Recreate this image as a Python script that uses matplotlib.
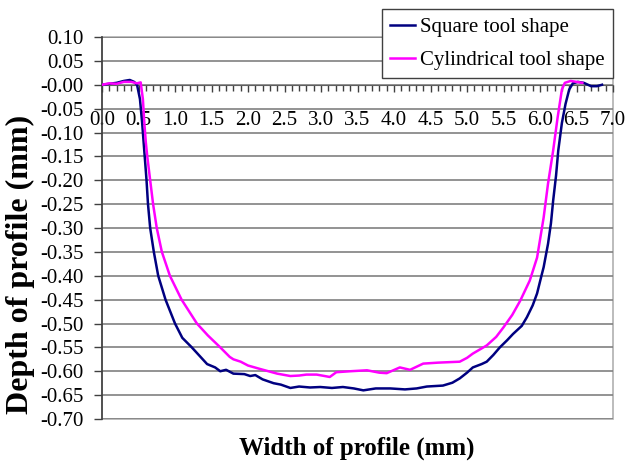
import matplotlib
matplotlib.use("Agg")
import matplotlib.pyplot as plt
from matplotlib.patches import Rectangle
from matplotlib.ticker import MultipleLocator, FormatStrFormatter

# Profile data (width in mm, depth in mm)
square_x = [0.00, 0.10, 0.20, 0.30, 0.38, 0.44, 0.48, 0.52, 0.55, 0.58,
            0.61, 0.63, 0.66, 0.71, 0.77, 0.87, 1.00, 1.10, 1.23, 1.35,
            1.44, 1.55, 1.62, 1.70, 1.80, 1.95, 2.03, 2.10, 2.20, 2.35,
            2.45, 2.58, 2.70, 2.85, 2.99, 3.15, 3.30, 3.45, 3.58, 3.75,
            3.95, 4.15, 4.31, 4.45, 4.67, 4.80, 4.90, 5.00, 5.08, 5.20,
            5.27, 5.36, 5.45, 5.55, 5.63, 5.75, 5.82, 5.90, 5.96, 6.02,
            6.05, 6.11, 6.15, 6.18, 6.22, 6.25, 6.30, 6.35, 6.40, 6.45,
            6.52, 6.60, 6.70, 6.78, 6.85]
square_y = [0.000, 0.002, 0.004, 0.008, 0.010, 0.006, 0.000, -0.030, -0.080, -0.140,
            -0.200, -0.250, -0.300, -0.350, -0.400, -0.450, -0.500, -0.530, -0.550, -0.570,
            -0.585, -0.592, -0.600, -0.597, -0.605, -0.606, -0.610, -0.608, -0.617, -0.625,
            -0.628, -0.635, -0.632, -0.634, -0.633, -0.635, -0.633, -0.636, -0.640, -0.636,
            -0.636, -0.638, -0.636, -0.632, -0.630, -0.624, -0.615, -0.603, -0.592, -0.585,
            -0.580, -0.566, -0.550, -0.535, -0.522, -0.505, -0.487, -0.462, -0.437, -0.400,
            -0.382, -0.333, -0.290, -0.243, -0.190, -0.138, -0.080, -0.040, -0.010, 0.003,
            0.006, 0.004, -0.003, -0.003, 0.000]

cyl_x = [0.00, 0.10, 0.20, 0.30, 0.40, 0.48, 0.53, 0.56, 0.58, 0.60,
         0.62, 0.66, 0.70, 0.75, 0.82, 0.93, 1.09, 1.30, 1.45, 1.62,
         1.75, 1.80, 1.90, 2.00, 2.16, 2.40, 2.58, 2.70, 2.80, 2.94,
         3.05, 3.12, 3.21, 3.40, 3.63, 3.80, 3.90, 4.08, 4.22, 4.40,
         4.60, 4.90, 5.00, 5.08, 5.27, 5.40, 5.50, 5.62, 5.73, 5.86,
         5.96, 6.05, 6.11, 6.18, 6.24, 6.30, 6.34, 6.42, 6.50, 6.58]
cyl_y = [0.000, 0.003, 0.002, 0.006, 0.006, 0.003, 0.005, -0.030, -0.080, -0.120,
         -0.150, -0.200, -0.250, -0.300, -0.350, -0.400, -0.450, -0.500, -0.525, -0.550,
         -0.570, -0.575, -0.580, -0.588, -0.595, -0.605, -0.610, -0.609, -0.607, -0.607,
         -0.610, -0.612, -0.602, -0.600, -0.598, -0.603, -0.604, -0.592, -0.597, -0.584,
         -0.582, -0.580, -0.572, -0.563, -0.546, -0.528, -0.508, -0.482, -0.452, -0.410,
         -0.362, -0.278, -0.207, -0.138, -0.070, -0.010, 0.004, 0.008, 0.006, 0.004]

plt.rcParams['font.family'] = ['Liberation Serif', 'DejaVu Serif']
plt.rcParams['axes.unicode_minus'] = False

fig = plt.figure(figsize=(6.26, 4.65), dpi=100)
ax = fig.add_axes([102 / 626, 1 - 419 / 465, 511 / 626, 382 / 465])

ax.plot(square_x, square_y, color='#000080', lw=1.8, label='Square tool shape', zorder=3)
ax.plot(cyl_x, cyl_y, color='#ff00ff', lw=1.8, label='Cylindrical tool shape', zorder=3)

ax.set_xlim(0, 7)
ax.set_ylim(-0.70, 0.10)

# y axis
ax.yaxis.set_major_locator(MultipleLocator(0.05))
ax.yaxis.set_major_formatter(FormatStrFormatter('%.2f'))
ax.grid(True, axis='y', color='#808080', lw=1.2)
ax.tick_params(axis='y', direction='out', length=6, width=1, color='#404040',
               labelsize=15, pad=7)

# x axis sits on y = 0 with labels pushed below
ax.spines['bottom'].set_position(('data', 0))
ax.spines['bottom'].set_color('#606060')
ax.xaxis.set_major_locator(MultipleLocator(0.5))
ax.xaxis.set_minor_locator(MultipleLocator(0.1))
ax.xaxis.set_major_formatter(FormatStrFormatter('%.1f'))
ax.tick_params(axis='x', which='major', direction='out', length=5, width=1,
               color='#404040', labelsize=15, pad=14)
ax.tick_params(axis='x', which='minor', direction='out', length=4, width=1,
               color='#404040')

ax.spines['left'].set_color('#404040')
ax.spines['left'].set_linewidth(1.2)
ax.spines['top'].set_visible(False)
ax.spines['right'].set_visible(False)
ax.add_patch(Rectangle((0, 0), 1, 1, transform=ax.transAxes, fill=False,
                       ec='#b0b0b0', lw=1.2, clip_on=False, zorder=0))

fig.text(357 / 626, 1 - 448 / 465, 'Width of profile (mm)', ha='center', va='center',
         fontsize=18, fontweight='bold')
fig.text(20 / 626, 1 - 264 / 465, 'Depth of profile (mm)', ha='center', va='center',
         rotation=90, fontsize=23, fontweight='bold')

leg = fig.legend(loc='upper right', bbox_to_anchor=(613 / 626, 1 - 9 / 465),
                 fontsize=15, frameon=True, fancybox=False, framealpha=1,
                 edgecolor='#404040', handlelength=1.2, handletextpad=0.25,
                 labelspacing=0.65, borderpad=0.4, borderaxespad=0)
leg.get_frame().set_linewidth(1.0)

fig.savefig('out.png', dpi=100)
